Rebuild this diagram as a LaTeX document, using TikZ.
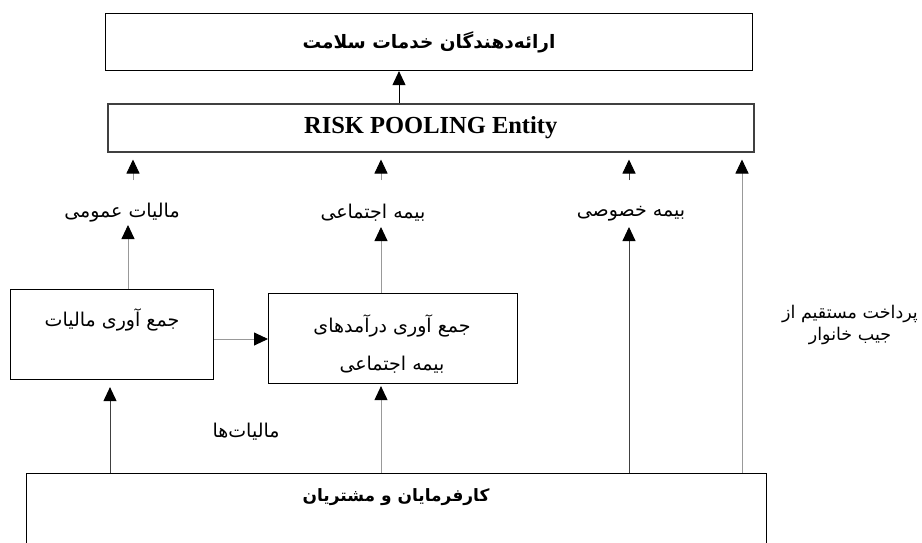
\documentclass[tikz,border=0pt]{standalone}
\usepackage{fontspec}
\setmainfont{Liberation Serif}
\newfontfamily\fa[Script=Arabic]{DejaVu Sans}
\TeXXeTstate=1
\usetikzlibrary{arrows.meta}
\definecolor{lgray}{gray}{0.6}
\definecolor{dgray}{gray}{0.25}
\begin{document}
\begin{tikzpicture}[x=1pt,y=-1pt,
  boxn/.style={draw=black, line width=1.1pt, rectangle, inner sep=0pt, anchor=north west},
  fat/.style={font=\fa\fontsize{19}{22}\selectfont, inner sep=0pt},
  fatb/.style={font=\fa\bfseries\fontsize{17}{20}\selectfont, inner sep=0pt},
  arr/.style={-{Triangle[length=14pt,width=13pt,color=black]}, line width=0.9pt},
  garr/.style={arr, draw=lgray},
  darr/.style={arr, draw=dgray}]
\clip (0,0) rectangle (922,542);
\fill[white] (0,0) rectangle (922,542);

% boxes
\node[boxn, minimum width=647pt, minimum height=57pt] (top) at (105,13) {};
\node[boxn, draw=black!75, line width=1.5pt, minimum width=646pt, minimum height=48pt] (risk) at (107,103)
  {\bfseries\fontsize{24.5}{28}\selectfont RISK POOLING Entity};
\node[boxn, minimum width=203pt, minimum height=90pt] (tax) at (10,289) {};
\node[boxn, minimum width=249pt, minimum height=90pt] (social) at (268,293) {};
\node[boxn, minimum width=740pt, minimum height=100pt] (emp) at (26,473) {};

% texts inside boxes
\node[fatb, font=\fa\bfseries\fontsize{18.5}{22}\selectfont] (topt) at (429,42) {\beginR ارائه‌دهندگان خدمات سلامت\endR};
\node[fat] (taxt) at (112,320) {\beginR جمع آوری مالیات\endR};
\node[fat, align=center, font=\fa\fontsize{19}{37.5}\selectfont] (socialt) at (392,344)
  {\beginR جمع آوری درآمدهای\endR\\\beginR بیمه اجتماعی\endR};
\node[fatb] (empt) at (396,497) {\beginR کارفرمایان و مشتریان\endR};

% labels
\node[fat] (l1) at (122,213) {\beginR مالیات عمومی\endR};
\node[fat] (l2) at (373,213) {\beginR بیمه اجتماعی\endR};
\node[fat] (l3) at (631,214) {\beginR بیمه خصوصی\endR};
\node[fat, align=center, font=\fa\fontsize{17.5}{22}\selectfont] (l4) at (850,325) {\beginR پرداخت مستقیم از\endR\\\beginR جیب خانوار\endR};
\node[fat] (l5) at (246,432) {\beginR مالیات‌ها\endR};

% column coordinates
\coordinate (c0) at (399,0);
\coordinate (c1a) at (133,0);
\coordinate (c1b) at (128,0);
\coordinate (c1c) at (110,0);
\coordinate (c2) at (381,0);
\coordinate (c3) at (629,0);
\coordinate (c4) at (742,0);
\coordinate (rowh) at (0,339);

% connectors
\draw[arr, draw=black] (risk.north -| c0) -- (top.south -| c0);

\draw[garr] ([yshift=33pt]l1.center -| c1a) -- ([yshift=-7pt]risk.south -| c1a);
\draw[garr] ([yshift=33pt]l2.center -| c2) -- ([yshift=-7pt]risk.south -| c2);
\draw[darr] ([yshift=34pt]l3.center -| c3) -- ([yshift=-7pt]risk.south -| c3);

\draw[garr] (tax.north -| c1b) -- ([yshift=-12pt]l1.center -| c1b);
\draw[garr] (social.north -| c2) -- ([yshift=-14pt]l2.center -| c2);

\draw[darr] (emp.north -| c1c) -- ([yshift=-7pt]tax.south -| c1c);
\draw[garr] (emp.north -| c2) -- ([yshift=-2pt]social.south -| c2);
\draw[darr] (emp.north -| c3) -- ([yshift=-13pt]l3.center -| c3);
\draw[garr] (emp.north -| c4) -- ([yshift=-7pt]risk.south -| c4);

\draw[garr] (tax.east |- rowh) -- (social.west |- rowh);
\end{tikzpicture}
\end{document}
